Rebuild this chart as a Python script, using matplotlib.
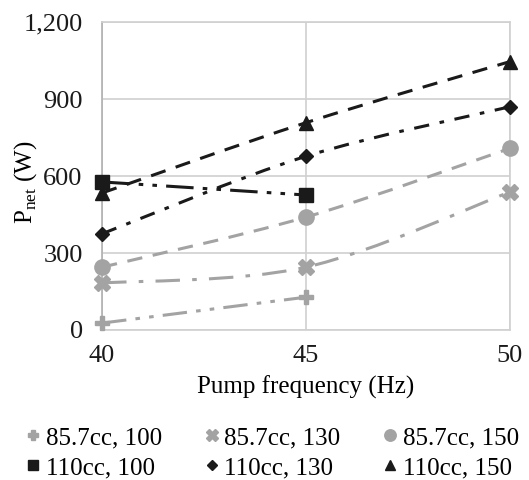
import numpy as np
import matplotlib
matplotlib.use('Agg')
import matplotlib.pyplot as plt
from matplotlib.path import Path
from matplotlib.patches import PathPatch
from matplotlib.ticker import FuncFormatter

plt.rcParams['font.family'] = ['Liberation Serif', 'DejaVu Serif']
plt.rcParams['mathtext.fontset'] = 'custom'
plt.rcParams['mathtext.rm'] = 'Liberation Serif'

freq = [40, 45, 50]
labels = ['85.7cc, 100', '85.7cc, 130', '85.7cc, 150',
          '110cc, 100', '110cc, 130', '110cc, 150']
p_857_100 = [27, 128]
p_857_130 = [183, 245, 538]
p_857_150 = [245, 440, 708]
p_110_100 = [577, 526]
p_110_130 = [375, 677, 870]
p_110_150 = [534, 808, 1046]

GRAY = '#a3a3a3'
BLACK = '#1a1a1a'

series = [
    (p_857_100, GRAY, 'P', 10, (0, (8, 3, 1.5, 3, 1.5, 3))),
    (p_857_130, GRAY, 'X', 12, (0, (8, 4, 1.5, 4))),
    (p_857_150, GRAY, 'o', 11, (0, (5, 3.5))),
    (p_110_100, BLACK, 's', 10, (0, (9, 3, 1.5, 3, 1.5, 3))),
    (p_110_130, BLACK, 'D', 7, (0, (5, 3.5, 1.5, 3.5))),
    (p_110_150, BLACK, '^', 10, (0, (5, 3.5))),
]


def smooth_path(x, y):
    # Catmull-Rom style cubic bezier, like Excel's smoothed lines
    pts = np.column_stack([x, y]).astype(float)
    n = len(pts)
    verts = [pts[0]]
    codes = [Path.MOVETO]
    for i in range(n - 1):
        p0 = pts[i - 1] if i > 0 else pts[i]
        p1 = pts[i]
        p2 = pts[i + 1]
        p3 = pts[i + 2] if i + 2 < n else pts[i + 1]
        c1 = p1 + (p2 - p0) / 6.0
        c2 = p2 - (p3 - p1) / 6.0
        verts += [c1, c2, p2]
        codes += [Path.CURVE4] * 3
    return Path(verts, codes)


fig = plt.figure(figsize=(5.29, 4.8), dpi=100)
ax = fig.add_axes([0.193, 0.3125, 0.771, 0.6415])

handles = []
for (vals, color, marker, ms, ls), lab in zip(series, labels):
    xs = freq[:len(vals)]
    patch = PathPatch(smooth_path(xs, vals), facecolor='none', edgecolor=color,
                      lw=2.2, linestyle=ls, zorder=3)
    ax.add_patch(patch)
    h, = ax.plot(xs, vals, linestyle='none', marker=marker, ms=ms, color=color,
                 mec=color, label=lab, zorder=4, clip_on=False)
    handles.append(h)

ax.set_xlim(40, 50)
ax.set_ylim(0, 1200)
ax.set_xticks(freq)
ax.set_yticks([0, 300, 600, 900, 1200])
ax.yaxis.set_major_formatter(FuncFormatter(lambda v, p: f'{int(v):,}'))
ax.grid(True, color='#d0d0d0', lw=1.2)
ax.set_axisbelow(True)
for s in ax.spines.values():
    s.set_color('#d0d0d0')
    s.set_linewidth(1.2)
ax.spines['left'].set_color('#b0b0b0')
ax.tick_params(length=0, labelsize=19, colors='#1a1a1a')
ax.tick_params(axis='y', pad=14)
ax.tick_params(axis='x', pad=11)
for t in ax.get_xticklabels() + ax.get_yticklabels():
    t.set_fontfamily('Liberation Serif')

ax.set_xlabel('Pump frequency (Hz)', fontsize=18, labelpad=6)
ax.set_ylabel(r'P$_{\mathrm{net}}$ (W)', fontsize=18)
ax.yaxis.set_label_coords(-0.155, 0.48)

# legend is filled column by column, so interleave to get row order
order = [0, 3, 1, 4, 2, 5]
leg = fig.legend([handles[i] for i in order], [labels[i] for i in order],
                 loc='lower center', bbox_to_anchor=(0.51, -0.045), ncol=3,
                 frameon=False, fontsize=18, handletextpad=0.0,
                 columnspacing=1.5, labelspacing=0.3, handlelength=1.0,
                 markerscale=0.75)

fig.savefig('out.png', dpi=100)
